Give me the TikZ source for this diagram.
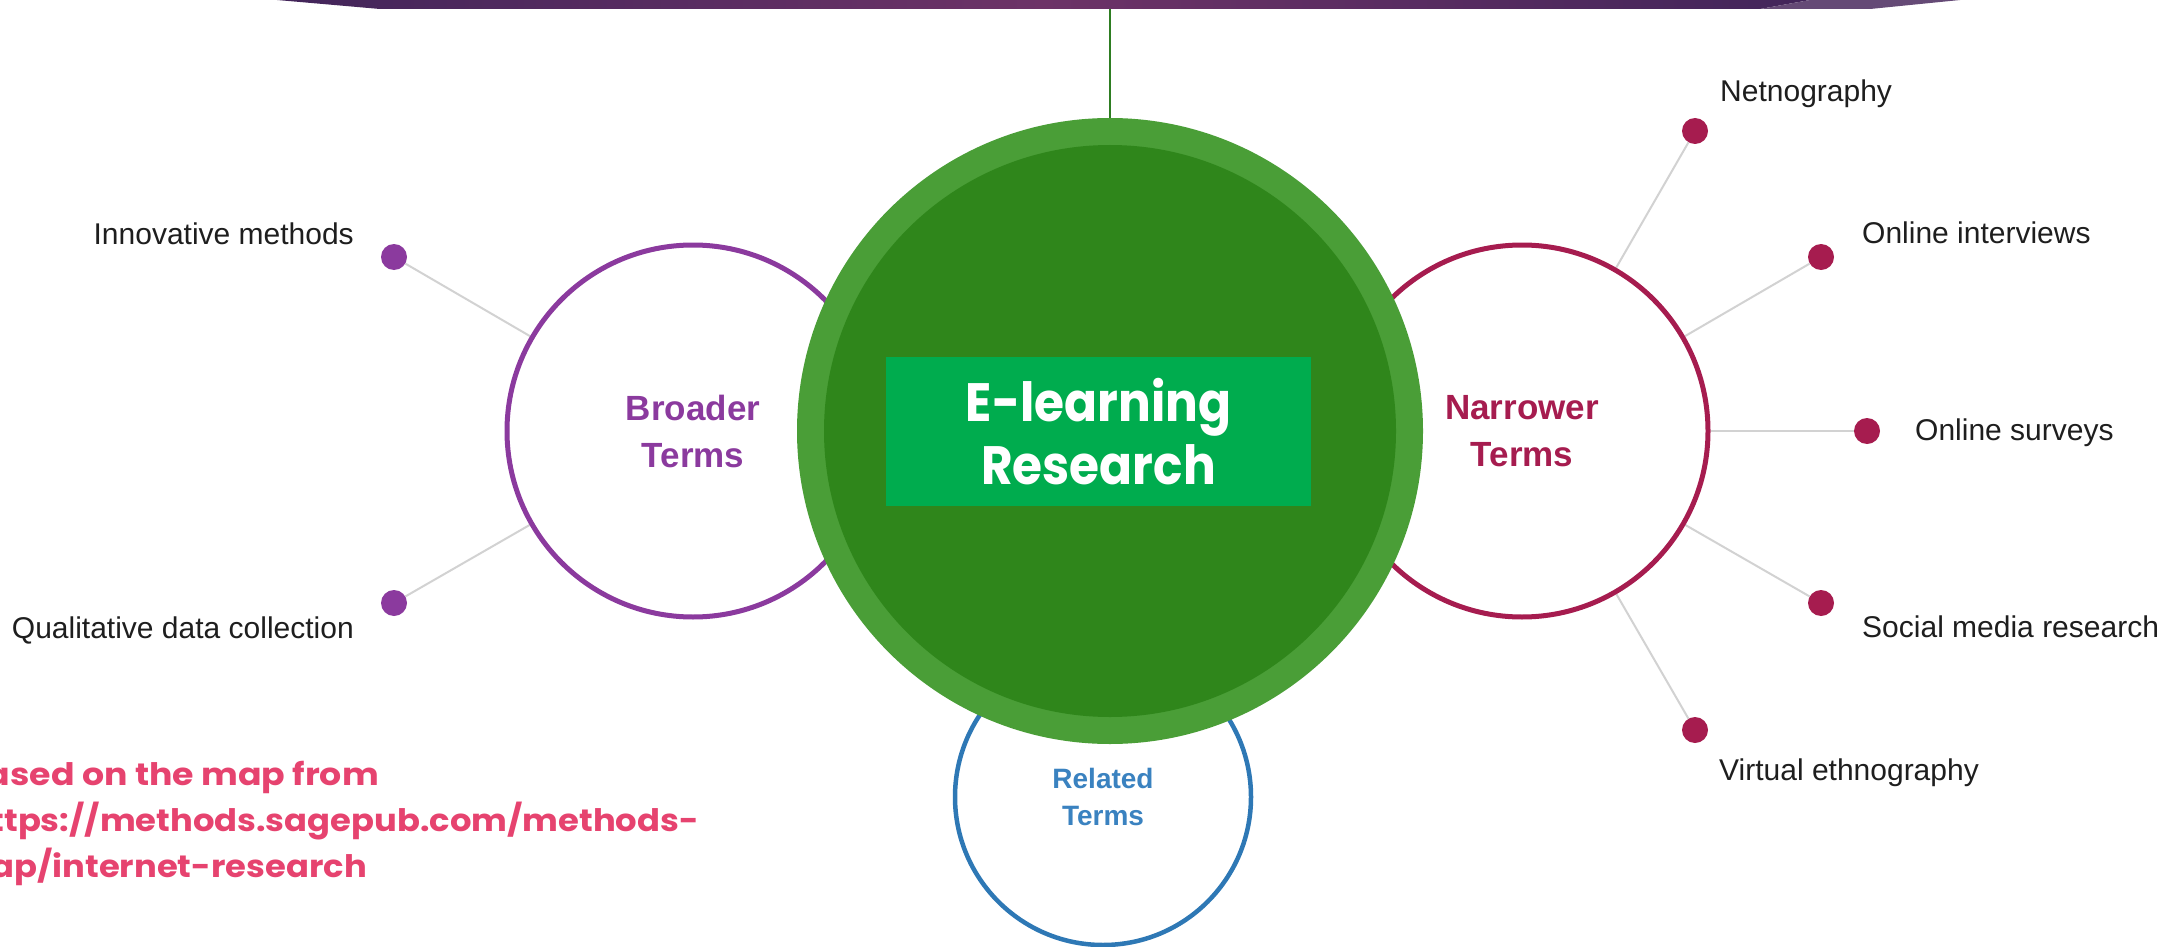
\documentclass[tikz,border=0pt]{standalone}
\usepackage{fontspec}
\setmainfont{Liberation Sans}
\newfontfamily\geofont{Poppins}
\usetikzlibrary{backgrounds}
\definecolor{bannerdark}{HTML}{42255A}
\definecolor{bannermid}{HTML}{6D3367}
\definecolor{bannerlight}{HTML}{654A76}
\definecolor{ringgreen}{HTML}{4A9E37}
\definecolor{innergreen}{HTML}{2F861B}
\definecolor{boxgreen}{HTML}{00AC4E}
\definecolor{stemgreen}{HTML}{2E7D22}
\definecolor{broaderpurple}{HTML}{8B3A9E}
\definecolor{narrowred}{HTML}{A61C4F}
\definecolor{relatedblue}{HTML}{2E78B5}
\definecolor{relatedtext}{HTML}{3A82C0}
\definecolor{spokegray}{HTML}{D2D2D2}
\definecolor{labelgray}{HTML}{1E1E1E}
\definecolor{sourcepink}{HTML}{E6436F}
\begin{document}
\begin{tikzpicture}[x=1pt,y=-1pt,
  termcircle/.style={circle, line width=5pt, fill=white, inner sep=0pt, minimum size=372pt, align=center,
    font=\bfseries\fontsize{35}{47}\selectfont},
  leafdot/.style={circle, inner sep=0pt, minimum size=26pt},
  spoke/.style={draw=spokegray, line width=2pt},
  leaflabel/.style={font=\fontsize{30}{35}\selectfont, text=labelgray, inner sep=0pt},
  sourcetext/.style={font=\geofont\bfseries\fontsize{31}{46}\selectfont, text=sourcepink, inner sep=0pt, anchor=base east}
]
\useasboundingbox (0,0) rectangle (2182,947);

% top banner
\shade[left color=bannerdark, right color=bannerdark, middle color=bannermid]
  (277,0) -- (1810,0) -- (1760,9) -- (380,9) -- cycle;
\fill[bannerlight] (1810,0) -- (1960,0) -- (1870,9) -- (1760,9) -- cycle;

% side circles
\node[termcircle, draw=broaderpurple, text=broaderpurple] (broader) at (693,431) {Broader\\Terms};
\node[termcircle, draw=narrowred, text=narrowred] (narrower) at (1522,431) {Narrower\\Terms};
\node[termcircle, draw=relatedblue, text=relatedtext, line width=4.5pt, minimum size=296pt,
  font=\bfseries\fontsize{28}{37}\selectfont] (related) at (1103,797) {Related\\Terms};

% leaf dots
\node[leafdot, fill=broaderpurple] (innov) at (394,257) {};
\node[leafdot, fill=broaderpurple] (quali) at (394,603) {};
\node[leafdot, fill=narrowred] (netno) at (1695,131) {};
\node[leafdot, fill=narrowred] (interv) at (1821,257) {};
\node[leafdot, fill=narrowred] (surveys) at (1867,431) {};
\node[leafdot, fill=narrowred] (social) at (1821,603) {};
\node[leafdot, fill=narrowred] (virtual) at (1695,730) {};

\begin{pgfonlayer}{background}
\draw[spoke] (innov) -- (broader);
\draw[spoke] (quali) -- (broader);
\draw[spoke] (netno) -- (narrower);
\draw[spoke] (interv) -- (narrower);
\draw[spoke] (surveys) -- (narrower);
\draw[spoke] (social) -- (narrower);
\draw[spoke] (virtual) -- (narrower);
\end{pgfonlayer}

% leaf labels
\node[leaflabel, anchor=base east] (linnov) at (354,244) {Innovative methods};
\node[leaflabel, anchor=base east] (lquali) at (354,638) {Qualitative data collection};
\node[leaflabel, anchor=base west] (lnetno) at (1720,102) {Netnography};
\node[leaflabel, anchor=base west] (linterv) at (1862,243) {Online interviews};
\node[leaflabel, anchor=base west] (lsurveys) at (1915,440) {Online surveys};
\node[leaflabel, anchor=base west] (lsocial) at (1862,637) {Social media research};
\node[leaflabel, anchor=base west] (lvirtual) at (1719,780) {Virtual ethnography};

% central circle
\node[circle, fill=ringgreen, inner sep=0pt, minimum size=626pt] (core) at (1110,431) {};
\node[circle, fill=innergreen, inner sep=0pt, minimum size=572pt] (coreinner) at (core.center) {};
\node[fill=boxgreen, minimum width=425pt, minimum height=149pt, inner sep=0pt, align=center,
  text=white, font=\geofont\bfseries\fontsize{54}{63}\selectfont] (title) at (1098.5,431.5)
  {\scalebox{0.9}[1]{E-learning}\\\scalebox{0.9}[1]{Research}};

\coordinate (stemtop) at (1110,9);
\draw[stemgreen, line width=2pt] (stemtop) -- (core);

% source note (cut off by the left edge, as in the original)
\begin{scope}
\clip (0,0) rectangle (2182,947);
\node[sourcetext] (src1) at (379,785) {\scalebox{1.12}[1]{Based on the map from}};
\node[sourcetext] (src2) at (699,831) {\scalebox{1.09}[1]{https://methods.sagepub.com/methods-}};
\node[sourcetext] (src3) at (367,877) {\scalebox{1.09}[1]{map/internet-research}};
\end{scope}
\end{tikzpicture}
\end{document}
